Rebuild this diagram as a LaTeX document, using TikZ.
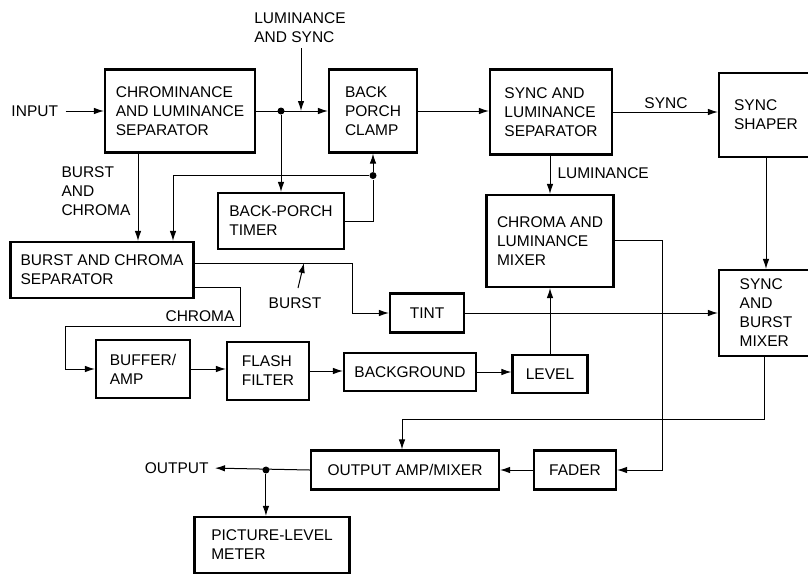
\documentclass[tikz,border=0pt]{standalone}
\usepackage{fontspec}
\newfontfamily\diafont{Liberation Sans}
\newcommand\diagfont{\diafont\fontsize{15.5}{19}\selectfont}
\usetikzlibrary{arrows.meta, calc}
\tikzset{
  >={Latex[length=10pt,width=6.5pt]},
  blok/.style={draw, line width=2.1pt, align=left, inner sep=0pt, font=\diagfont},
  lbl/.style={align=left, inner sep=1pt, font=\diagfont},
  jdot/.style={circle, fill, inner sep=0pt, minimum size=7pt},
}

\begin{document}
\begin{tikzpicture}[x=1pt, y=-1pt, line width=1pt]
    \useasboundingbox (0,0) rectangle (808,574);

    % top row
    \node[blok, minimum width=150, minimum height=83] (chromsep) at (180,111) {CHROMINANCE\\AND LUMINANCE\\SEPARATOR};
    \node[blok, minimum width=88, minimum height=83] (clamp) at (373,111) {BACK\\PORCH\\CLAMP};
    \node[blok, minimum width=122, minimum height=85] (synclum) at (551,112) {SYNC AND\\LUMINANCE\\SEPARATOR};
    \node[blok, minimum width=94, minimum height=84] (shaper) at (766,115) {SYNC\\SHAPER};

    % middle
    \node[blok, minimum width=126, minimum height=56] (timer) at (281,221) {BACK-PORCH\\TIMER};
    \node[blok, minimum width=183, minimum height=56] (bcsep) at (102,270) {BURST AND CHROMA\\SEPARATOR};
    \node[blok, minimum width=127, minimum height=92] (clmix) at (550,241) {CHROMA AND\\LUMINANCE\\MIXER};
    \node[blok, minimum width=74, minimum height=39] (tint) at (427,313) {TINT};
    \node[blok, minimum width=94, minimum height=86] (sbmix) at (766,313) {SYNC\\AND\\BURST\\MIXER};

    % chroma chain
    \node[blok, minimum width=94, minimum height=58] (buffer) at (143,369) {BUFFER/\\AMP};
    \node[blok, minimum width=82, minimum height=58] (flash) at (268,371) {FLASH\\FILTER};
    \node[blok, minimum width=132, minimum height=38] (backgr) at (410,372) {BACKGROUND};
    \node[blok, minimum width=75, minimum height=38] (level) at (550,374) {LEVEL};

    % output
    \node[blok, minimum width=188, minimum height=39] (outamp) at (405,470) {OUTPUT AMP/MIXER};
    \node[blok, minimum width=82, minimum height=39] (fader) at (575,470) {FADER};
    \node[blok, minimum width=155, minimum height=56] (meter) at (272,545) {PICTURE-LEVEL\\METER};

    % labels
    \node[lbl, anchor=west] (inlbl) at (10,111) {INPUT};
    \node[lbl] (lumsynclbl) at (300,28) {LUMINANCE\\AND SYNC};
    \node[lbl, anchor=west] (bclbl) at (60,191) {BURST\\AND\\CHROMA};
    \node[lbl] (burstlbl) at (295,303) {BURST};
    \node[lbl, anchor=east] (chromalbl) at (236,316) {CHROMA};
    \node[lbl, anchor=west] (lumlbl) at (556,173) {LUMINANCE};
    \node[lbl] (synclbl) at (666,103) {SYNC};
    \node[lbl, anchor=east] (outlbl) at (210,468) {OUTPUT};

    % junctions
    \node[jdot] (j1) at (chromsep.east -| timer.north) {};
    \node[jdot] (j2) at ($(clamp.south)+(0,22)$) {};
    \node[jdot] (j3) at ($(outamp.west)+(-44,0)$) {};

    % luminance path
    \draw[->, shorten <=6pt] (inlbl.east) -- (chromsep.west);
    \draw[->] (chromsep.east) -- (clamp.west);
    \draw[->, shorten <=4pt] ([xshift=1pt]lumsynclbl.south) -- ([xshift=1pt]lumsynclbl.south |- clamp.west);
    \draw[->] (j1) -- (timer.north);
    \draw (timer.east) -| (j2);
    \draw[->] (j2) -- (clamp.south);
    \draw[->] (j2) -| ([xshift=71pt]bcsep.north);
    \draw[->] ([xshift=-42pt]chromsep.south) -- ([xshift=36pt]bcsep.north);
    \draw[->] (clamp.east) -- (clamp.east -| synclum.west);
    \draw[->] (synclum.east) -- (synclum.east -| shaper.west);
    \draw[->] (synclum.south -| clmix.north) -- (clmix.north);
    \draw[->] (shaper.south) -- (sbmix.north);

    % burst and chroma
    \draw[->] ([yshift=7pt]bcsep.east) -| ([xshift=-36pt]tint.west) -- (tint.west);
    \draw[->] ([xshift=3pt,yshift=8pt]burstlbl.north) -- ++(6,-25);
    \draw[->] ([yshift=-17pt]bcsep.east) -- ++(46,0) -- ++(0,39) -| ([xshift=-29pt]buffer.west) -- (buffer.west);
    \draw[->] (buffer.east) -- (buffer.east -| flash.west);
    \draw[->] (flash.east) -- (flash.east -| backgr.west);
    \draw[->] (backgr.east) -- (backgr.east -| level.west);
    \draw[->] (level.north) -- (level.north |- clmix.south);
    \draw[->] (tint.east) -- (tint.east -| sbmix.west);

    % to output
    \draw[->] ([yshift=1pt]clmix.east) -- ++(48,0) |- (fader.east);
    \draw[->] ([xshift=-2pt]sbmix.south) -- ++(0,62) -| ([xshift=-3pt]outamp.north);
    \draw[->] (fader.west) -- (outamp.east);
    \draw[->, shorten >=5pt] (outamp.west) -- (outlbl.east);
    \draw[->] (j3) -- (j3 |- meter.north);
\end{tikzpicture}
\end{document}
